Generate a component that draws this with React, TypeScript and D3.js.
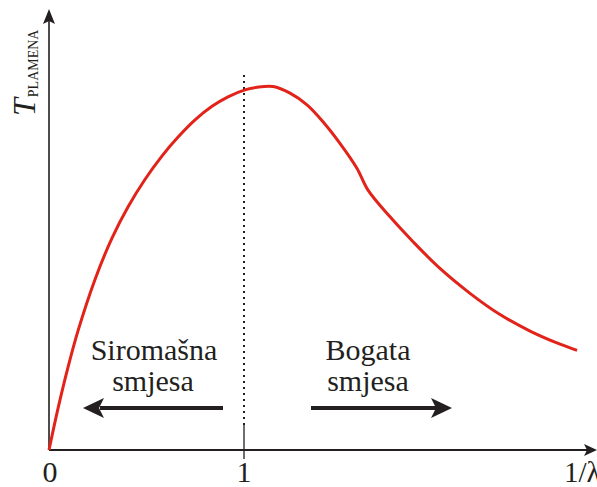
import React from "react";
import * as d3 from "d3";

const curveX = [0, 0.046, 0.097, 0.149, 0.236, 0.323, 0.405, 0.492, 0.579, 0.662, 0.749, 0.836, 0.918, 1.005, 1.067, 1.149, 1.236, 1.323, 1.405, 1.492, 1.579, 1.636, 1.749, 1.867, 2.005, 2.159, 2.313, 2.467, 2.621, 2.708];
const curveY = [0, 0.113, 0.225, 0.326, 0.466, 0.579, 0.664, 0.739, 0.803, 0.855, 0.902, 0.939, 0.965, 0.984, 0.991, 0.993, 0.975, 0.943, 0.897, 0.838, 0.77, 0.71, 0.637, 0.569, 0.496, 0.428, 0.37, 0.325, 0.289, 0.272];
const tickValues = [0, 1];
const tickLabels = ["0", "1"];
const xAxisLabel = "1/λ";
const yAxisMain = "T";
const yAxisSub = "PLAMENA";
const leftText = ["Siromašna", "smjesa"];
const rightText = ["Bogata", "smjesa"];

const W = 597;
const H = 487;
const FONT = "'Liberation Serif', 'Times New Roman', serif";
const INK = "#231f20";
const RED = "#e2231a";

export default function App() {
  const x = d3.scaleLinear().domain([0, 1]).range([49, 244]);
  const y = d3.scaleLinear().domain([0, 1]).range([450, 84]);
  const data = curveX.map((v, i) => [v, curveY[i]] as [number, number]);
  const line = d3
    .line<[number, number]>()
    .x((d) => x(d[0]))
    .y((d) => y(d[1]))
    .curve(d3.curveCatmullRom.alpha(0.5));

  const x0 = x(0);
  const y0 = y(0);
  const x1 = x(1);

  const arrowLeft = (tipX: number, yy: number) =>
    `M${tipX},${yy} L${tipX + 21},${yy - 10} L${tipX + 16},${yy} L${tipX + 21},${yy + 10} Z`;
  const arrowRight = (tipX: number, yy: number) =>
    `M${tipX},${yy} L${tipX - 21},${yy - 10} L${tipX - 16},${yy} L${tipX - 21},${yy + 10} Z`;

  const arrowY = 408;

  return (
    <svg
      width={W}
      height={H}
      style={{ position: "absolute", left: 0, top: 0, background: "#fff" }}
      fontFamily={FONT}
    >
      <line x1={x1} x2={x1} y1={75} y2={425} stroke={INK} strokeWidth={2} strokeDasharray="2,4" />
      <line x1={x1} x2={x1} y1={425} y2={459} stroke={INK} strokeWidth={1.3} />

      <line x1={x0} x2={x0} y1={y0} y2={20} stroke={INK} strokeWidth={1.6} />
      <path d={`M${x0},9 L${x0 - 6},24 L${x0},21 L${x0 + 6},24 Z`} fill={INK} />
      <line x1={x0} x2={588} y1={y0} y2={y0} stroke={INK} strokeWidth={2.2} />
      <path d={`M597,${y0} L584,${y0 - 6} L587,${y0} L584,${y0 + 6} Z`} fill={INK} />

      <path d={line(data) || ""} fill="none" stroke={RED} strokeWidth={3} strokeLinejoin="round" />

      {tickValues.map((t, i) => (
        <text key={i} x={x(t) + (i === 0 ? 1 : 0)} y={482} fontSize={30} textAnchor="middle" fill={INK}>
          {tickLabels[i]}
        </text>
      ))}
      <text x={564} y={482} fontSize={29} fill={INK}>
        {xAxisLabel}
      </text>

      <text transform="translate(35,116) rotate(-90)" fill={INK}>
        <tspan fontSize={32} fontStyle="italic">{yAxisMain}</tspan>
        <tspan fontSize={14} dy={3} dx={1}>{yAxisSub}</tspan>
      </text>

      <text x={154} y={360} fontSize={30} textAnchor="middle" fill={INK}>{leftText[0]}</text>
      <text x={153} y={391} fontSize={30} textAnchor="middle" fill={INK}>{leftText[1]}</text>
      <text x={368} y={360} fontSize={30} textAnchor="middle" fill={INK}>{rightText[0]}</text>
      <text x={368} y={391} fontSize={30} textAnchor="middle" fill={INK}>{rightText[1]}</text>

      <line x1={100} x2={223} y1={arrowY} y2={arrowY} stroke={INK} strokeWidth={4} />
      <path d={arrowLeft(83, arrowY)} fill={INK} />
      <line x1={311} x2={436} y1={arrowY} y2={arrowY} stroke={INK} strokeWidth={4} />
      <path d={arrowRight(452, arrowY)} fill={INK} />
    </svg>
  );
}
